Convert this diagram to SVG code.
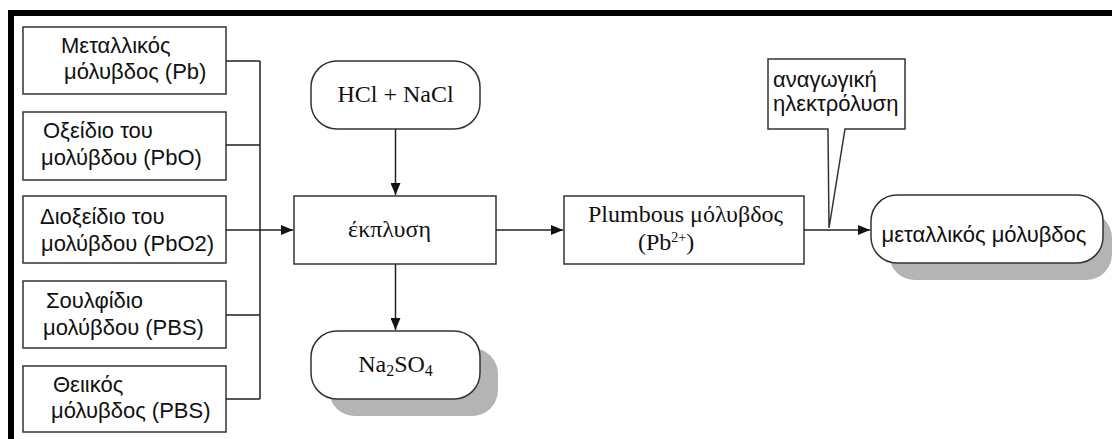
<svg xmlns="http://www.w3.org/2000/svg" width="1112" height="439" viewBox="0 0 1112 439">
  <style>
    .box { fill: #fff; stroke: #333; stroke-width: 1.5; }
    .shadow { fill: #b4b4b4; }
    .sans { font-family: "Liberation Sans", Arial, sans-serif; font-size: 22px; fill: #111; }
    .serif { font-family: "Liberation Serif", "Times New Roman", serif; font-size: 24px; fill: #111; }
    .wire { fill: none; stroke: #222; stroke-width: 1.5; }
  </style>
  <defs>
    <marker id="arrow" viewBox="0 0 12 10" refX="12" refY="5" markerWidth="12" markerHeight="10" markerUnits="userSpaceOnUse" orient="auto">
      <path d="M0,0 L12,5 L0,10 Z" fill="#111"/>
    </marker>
  </defs>
  <rect width="1112" height="439" fill="#fff"/>
  <!-- frame -->
  <rect x="8" y="10" width="1104" height="6" fill="#000"/>
  <rect x="8" y="10" width="6" height="429" fill="#000"/>

  <g id="src-pb">
    <rect class="box" x="23" y="27" width="203" height="67"/>
    <text class="sans" x="61" y="53">Μεταλλικός</text>
    <text class="sans" x="64" y="79">μόλυβδος (Pb)</text>
  </g>
  <g id="src-pbo">
    <rect class="box" x="23" y="112" width="203" height="68"/>
    <text class="sans" x="43" y="138">Οξείδιο του</text>
    <text class="sans" x="41" y="165">μολύβδου (PbO)</text>
  </g>
  <g id="src-pbo2">
    <rect class="box" x="23" y="196" width="203" height="67"/>
    <text class="sans" x="40" y="224">Διοξείδιο του</text>
    <text class="sans" x="41" y="251">μολύβδου (PbO2)</text>
  </g>
  <g id="src-pbs">
    <rect class="box" x="23" y="281" width="203" height="67"/>
    <text class="sans" x="46" y="308">Σουλφίδιο</text>
    <text class="sans" x="43" y="335">μολύβδου (PBS)</text>
  </g>
  <g id="src-pbso4">
    <rect class="box" x="23" y="366" width="203" height="66"/>
    <text class="sans" x="53" y="392">Θειικός</text>
    <text class="sans" x="51" y="418">μόλυβδος (PBS)</text>
  </g>

  <g id="reagent">
    <rect class="box" x="311" y="61" width="169" height="68" rx="26" ry="26"/>
    <text class="serif" x="395.5" y="102" text-anchor="middle">HCl + NaCl</text>
  </g>

  <g id="leaching">
    <rect class="box" x="294" y="196" width="202" height="68"/>
    <text class="serif" x="389.5" y="237" text-anchor="middle" font-size="23">έκπλυση</text>
  </g>

  <g id="byproduct">
    <rect class="shadow" x="329" y="348" width="169" height="68" rx="26" ry="26"/>
    <rect class="box" x="311" y="331" width="169" height="68" rx="26" ry="26"/>
    <text class="serif" x="395.5" y="372" text-anchor="middle">Na<tspan font-size="16" dy="4">2</tspan><tspan dy="-4">SO</tspan><tspan font-size="16" dy="4">4</tspan></text>
  </g>

  <g id="plumbous">
    <rect class="box" x="564" y="196" width="240" height="68"/>
    <text class="serif" x="588" y="222">Plumbous μόλυβδος</text>
    <text class="serif" x="638" y="250">(Pb<tspan font-size="14" dy="-8">2+</tspan><tspan dy="8">)</tspan></text>
  </g>

  <g id="electrolysis-note">
    <path class="box" d="M768,59 H905 V129 H845 L829,228 L828,129 H768 Z"/>
    <text class="sans" x="773" y="87">αναγωγική</text>
    <text class="sans" x="773" y="111">ηλεκτρόλυση</text>
  </g>

  <g id="metallic-lead">
    <rect class="shadow" x="889" y="212" width="223" height="68" rx="26" ry="26"/>
    <rect class="box" x="871" y="195" width="232" height="68" rx="26" ry="26"/>
    <text class="sans" x="984" y="242" text-anchor="middle" font-size="22.5">μεταλλικός μόλυβδος</text>
  </g>

  <g id="connectors">
    <path class="wire" d="M226,61 H260 M226,145 H260 M226,315 H260 M226,399 H260 M260,61 V399"/>
    <path class="wire" d="M226,230 H293" marker-end="url(#arrow)"/>
    <path class="wire" d="M395.5,129 V195" marker-end="url(#arrow)"/>
    <path class="wire" d="M395.5,264 V330" marker-end="url(#arrow)"/>
    <path class="wire" d="M496,230 H563" marker-end="url(#arrow)"/>
    <path class="wire" d="M804,230 H870" marker-end="url(#arrow)"/>
  </g>
</svg>
